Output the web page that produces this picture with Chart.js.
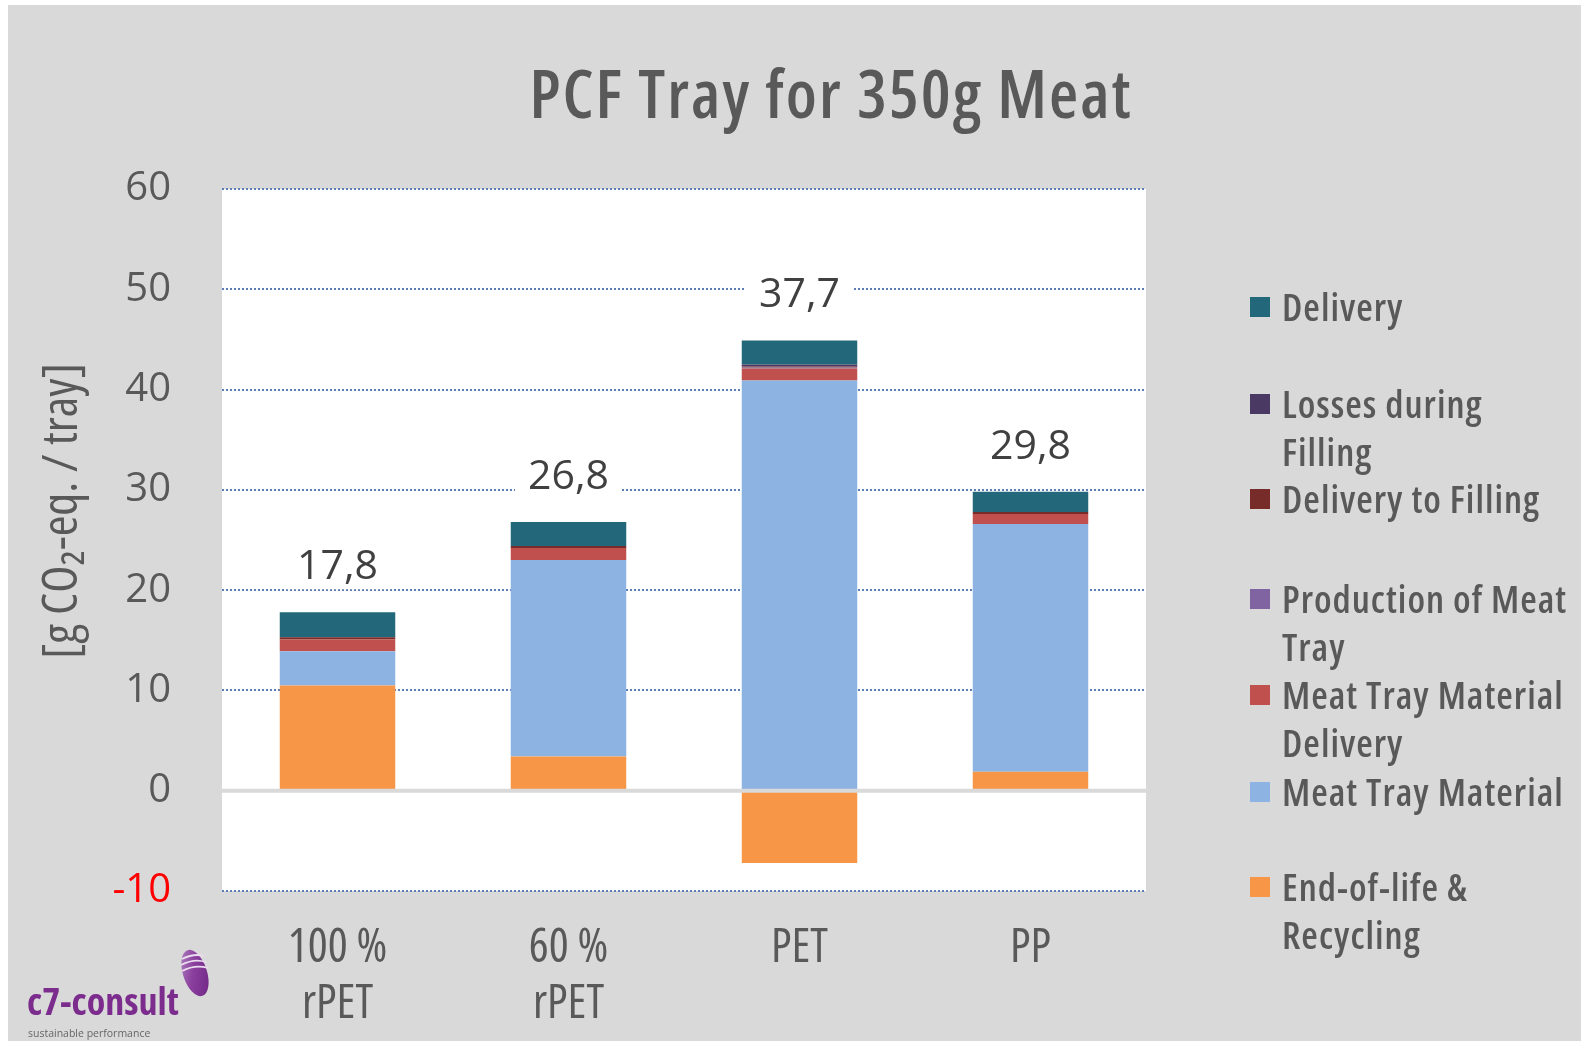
<!DOCTYPE html>
<html>
<head>
<meta charset="utf-8">
<script src="https://cdn.jsdelivr.net/npm/chart.js@4.4.1/dist/chart.umd.min.js"></script>
<style>
  html, body { margin: 0; padding: 0; background: #fff; }
  #wrap { position: relative; width: 1581px; height: 1041px; overflow: hidden; }
  #c { position: absolute; left: 0; top: 0; }
  .os { font-family: 'Open Sans', 'DejaVu Sans', sans-serif; }
  #title { position: absolute; left: 331px; width: 1000px; top: 59px; text-align: center;
           font-size: 67px; line-height: 67px; font-weight: 600; font-stretch: condensed; letter-spacing: 2px;
           color: #595959; white-space: nowrap; }
  .lg-item { position: absolute; left: 1250px; color: #595959; font-size: 38px; font-weight: 600; font-stretch: condensed;
             letter-spacing: 1px; line-height: 48px; white-space: nowrap; }
  .lg-box { position: absolute; left: 0; width: 20px; height: 20px; top: 15px; }
  .lg-text { position: absolute; left: 32px; top: 0; }
  #logo { position: absolute; left: 27px; top: 940px; width: 200px; height: 100px; }
  #logo .name { position: absolute; left: 0; top: 40px; font-size: 38px; font-weight: 700; font-stretch: condensed;
                color: #7b2c8d; line-height: 40px; white-space: nowrap; }
  #logo .tag { position: absolute; left: 1px; top: 87px; font-size: 10.5px; line-height: 12px; color: #666; white-space: nowrap; }
</style>
</head>
<body>
<div id="wrap">
  <canvas id="c" width="1581" height="1041"></canvas>
  <div id="title" class="os">PCF Tray for 350g Meat</div>
  <div id="legend"></div>
  <div id="logo">
    <svg style="position:absolute;left:151px;top:6px" width="36" height="56" viewBox="0 0 36 56">
      <defs>
        <linearGradient id="shell" x1="0" y1="0" x2="1" y2="1">
          <stop offset="0" stop-color="#b48cc4"/>
          <stop offset="0.45" stop-color="#8a3f9e"/>
          <stop offset="1" stop-color="#6d2382"/>
        </linearGradient>
      </defs>
      <ellipse cx="17" cy="27" rx="12" ry="24" transform="rotate(-18 17 27)" fill="url(#shell)"/>
      <path d="M4 13 Q16 7 26 10 M3 19 Q16 12 28 16 M4 25 Q17 18 30 22" stroke="#eadcef" stroke-width="1.8" fill="none"/>
    </svg>
    <div class="name os">c7-consult</div>
    <div class="tag os">sustainable performance</div>
  </div>
</div>
<script>
// Categories and stacked components (g CO2-eq. per tray)
const categories = [['100 %', 'rPET'], ['60 %', 'rPET'], ['PET'], ['PP']];
const endOfLife = [10.5, 3.4, -7.2, 1.9];
const trayMaterial = [3.4, 19.6, 40.9, 24.7];
const trayMaterialDelivery = [1.2, 1.2, 1.2, 1.0];
const trayProduction = [0, 0, 0.1, 0];
const deliveryToFilling = [0.2, 0.2, 0.1, 0.2];
const fillingLosses = [0, 0, 0.2, 0];
const delivery = [2.5, 2.4, 2.4, 2.0];
const totals = [17.8, 26.8, 37.7, 29.8];
const yTicks = [-10, 0, 10, 20, 30, 40, 50, 60];

const OPEN = "'Open Sans', 'DejaVu Sans', sans-serif";

// Stack order bottom -> top
const series = [
  { name: 'End-of-life & Recycling', lines: ['End-of-life &', 'Recycling'], data: endOfLife, color: '#f79646' },
  { name: 'Meat Tray Material', lines: ['Meat Tray Material'], data: trayMaterial, color: '#8db3e2' },
  { name: 'Meat Tray Material Delivery', lines: ['Meat Tray Material', 'Delivery'], data: trayMaterialDelivery, color: '#c0504d' },
  { name: 'Production of Meat Tray', lines: ['Production of Meat', 'Tray'], data: trayProduction, color: '#8064a2' },
  { name: 'Delivery to Filling', lines: ['Delivery to Filling'], data: deliveryToFilling, color: '#772c2a' },
  { name: 'Losses during Filling', lines: ['Losses during', 'Filling'], data: fillingLosses, color: '#4a3a63' },
  { name: 'Delivery', lines: ['Delivery'], data: delivery, color: '#23687a' }
];

// Legend, listed top -> bottom
const legendTops = [282, 379, 474, 574, 670, 767, 862];
const legendEl = document.getElementById('legend');
series.slice().reverse().forEach((s, i) => {
  const item = document.createElement('div');
  item.className = 'lg-item os';
  item.style.top = legendTops[i] + 'px';
  item.innerHTML = `<div class="lg-box" style="background:${s.color}"></div><div class="lg-text">${s.lines.map(l => l.replace('&', '&amp;')).join('<br>')}</div>`;
  legendEl.appendChild(item);
});

const decor = {
  id: 'decor',
  beforeDraw(chart) {
    const { ctx, chartArea: a } = chart;
    ctx.save();
    ctx.fillStyle = '#ffffff';
    ctx.fillRect(0, 0, chart.width, chart.height);
    ctx.fillStyle = '#d9d9d9';
    ctx.fillRect(8, 5, chart.width - 8, chart.height - 5);
    ctx.fillStyle = '#ffffff';
    ctx.fillRect(a.left, a.top, a.right - a.left, a.bottom - a.top);
    ctx.restore();
  },
  afterDatasetsDraw(chart) {
    const { ctx, chartArea: a, scales: { x, y } } = chart;
    ctx.save();
    // zero line
    const y0 = y.getPixelForValue(0);
    ctx.strokeStyle = '#d9d9d9';
    ctx.lineWidth = 4;
    ctx.beginPath(); ctx.moveTo(a.left, y0); ctx.lineTo(a.right, y0); ctx.stroke();
    // total labels above each stack
    ctx.font = `41px ${OPEN}`;
    ctx.textAlign = 'center';
    ctx.textBaseline = 'middle';
    totals.forEach((t, i) => {
      const pos = series.reduce((s, d) => s + Math.max(0, d.data[i]), 0);
      const cx = x.getPixelForValue(i);
      const cy = y.getPixelForValue(pos) - 47;
      const txt = t.toFixed(1).replace('.', ',');
      const w = ctx.measureText(txt).width + 26;
      ctx.fillStyle = '#ffffff';
      ctx.fillRect(cx - w / 2, cy - 24, w, 48);
      ctx.fillStyle = '#404040';
      ctx.fillText(txt, cx, cy + 2);
    });
    ctx.restore();
  },
  afterDraw(chart) {
    const { ctx } = chart;
    ctx.save();
    ctx.translate(63, 511);
    ctx.rotate(-Math.PI / 2);
    ctx.font = `500 semi-condensed 50px ${OPEN}`;
    ctx.fillStyle = '#595959';
    ctx.textAlign = 'center';
    ctx.textBaseline = 'middle';
    ctx.fillText('[g CO\u2082-eq. / tray]', 0, 0);
    ctx.restore();
  }
};

new Chart(document.getElementById('c'), {
  type: 'bar',
  data: {
    labels: categories,
    datasets: series.map(s => ({ label: s.name, data: s.data, backgroundColor: s.color, borderWidth: 0 }))
  },
  options: {
    responsive: false,
    animation: false,
    devicePixelRatio: 1,
    layout: { padding: { left: 0, top: 189, right: 435, bottom: 0 } },
    plugins: { legend: { display: false }, title: { display: false }, tooltip: { enabled: false } },
    datasets: { bar: { categoryPercentage: 1, barPercentage: 0.5 } },
    scales: {
      x: {
        stacked: true,
        grid: { display: false },
        border: { display: false },
        ticks: { color: '#595959', font: { family: OPEN, size: 47, weight: '500 condensed', lineHeight: 1.19 }, padding: 22 },
        afterFit(s) { s.height = 150; }
      },
      y: {
        stacked: true,
        min: -10, max: 60,
        afterBuildTicks(s) { s.ticks = yTicks.map(v => ({ value: v })); },
        grid: {
          drawTicks: false,
          color: c => (c.tick && c.tick.value === 0) ? 'rgba(0,0,0,0)' : '#5a7db5',
          lineWidth: 2
        },
        border: { display: false, dash: [2, 2] },
        ticks: {
          padding: 51,
          color: c => c.tick.value < 0 ? '#ff0000' : '#595959',
          font: { family: OPEN, size: 40 }
        },
        afterFit(s) { s.width = 222; }
      }
    }
  },
  plugins: [decor]
});
</script>
</body>
</html>
